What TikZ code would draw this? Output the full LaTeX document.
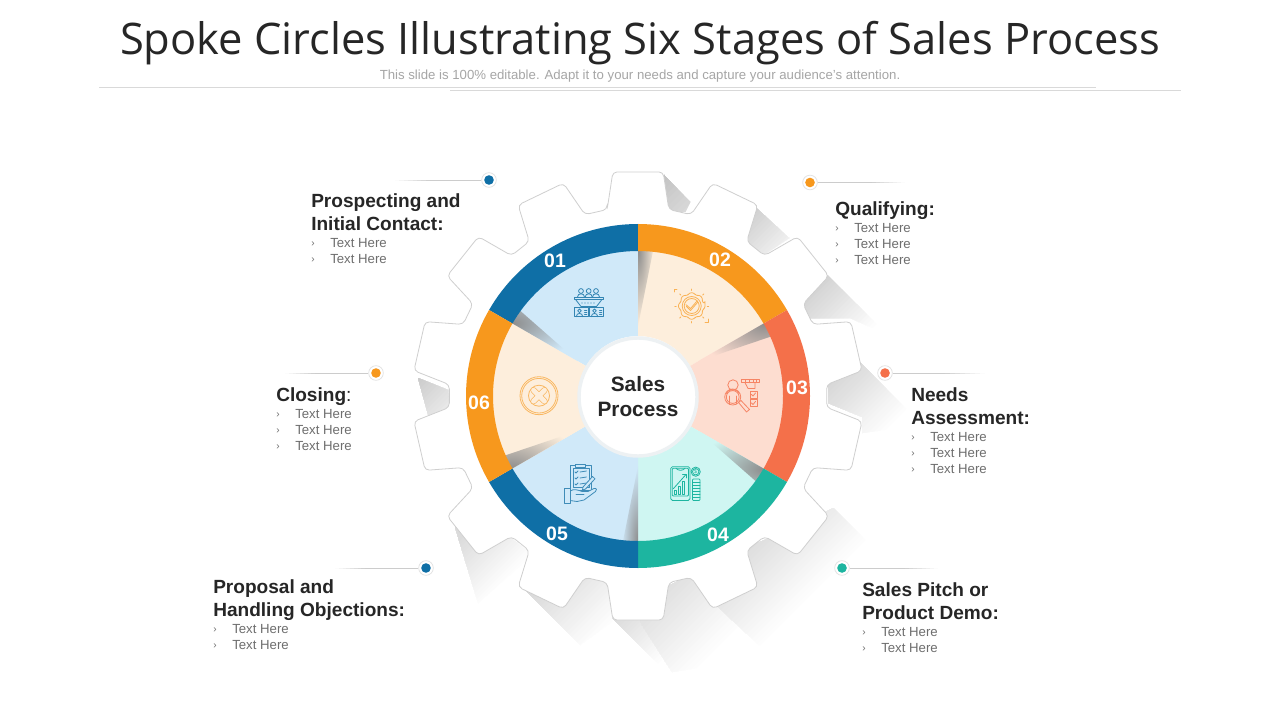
\documentclass[tikz,border=0pt]{standalone}
\usepackage{fontspec}
\setmainfont{Liberation Sans}
\newfontfamily\titlefont{Open Sans}
\usetikzlibrary{calc}
\definecolor{cblue}{HTML}{0F6FA6}
\definecolor{corange}{HTML}{F7981D}
\definecolor{cred}{HTML}{F4704A}
\definecolor{cteal}{HTML}{1DB5A0}
\definecolor{lblue}{HTML}{D0E9F9}
\definecolor{lorange}{HTML}{FDEEDC}
\definecolor{lred}{HTML}{FDDDD0}
\definecolor{lteal}{HTML}{CFF6F2}
\definecolor{ink}{HTML}{262626}
\definecolor{soft}{HTML}{6E6E6E}
\definecolor{gearline}{HTML}{CFCFCF}
\definecolor{hubline}{HTML}{EDF1F3}
\tikzset{
  x=.75pt,y=-.75pt,
  headtext/.style={anchor=base west,inner sep=0pt,font=\fontsize{14.3}{17}\selectfont\bfseries,text=ink},
  itemtext/.style={anchor=base west,inner sep=0pt,font=\fontsize{9.9}{12}\selectfont,text=soft},
  marktext/.style={anchor=base west,inner sep=0pt,font=\fontsize{7.5}{9}\selectfont,text=soft},
  numtext/.style={inner sep=0pt,font=\fontsize{14.6}{17}\selectfont\bfseries,text=white},
  dotcore/.style={circle,fill=#1,minimum size=7.2pt,inner sep=0pt},
  halo/.style={circle,draw=black!11,line width=.6pt,fill=white,minimum size=11pt,inner sep=0pt},
  leader/.style={draw=black!20,line width=.6pt},
  icon/.style={draw=#1,line width=.6pt,line join=round,line cap=round},
}
\newcommand{\itemrow}[3]{%
  \node[marktext] at (#1,#2+4.5) {›};
  \node[itemtext] at (#3,#2+5.5) {Text Here};
}
% polygon #1 filled with a gradient along x+y from s=#2 (black!#4) to s=#3 (white);
% bands are painted from the light end to the dark end so the clip edge stays clean
\newcommand{\longshadow}[4]{%
  \begin{scope}
    \clip #1;
    \foreach \k in {24,23,...,0}{
      \pgfmathsetmacro{\sv}{(#2+(#3-#2)*\k/24)/2}
      \pgfmathsetmacro{\mv}{#4*(1-\k/24)}
      \fill[black!\mv] (\sv+600,\sv-600) -- (\sv-600,\sv+600) -- (\sv-1800,\sv-600) -- (\sv-600,\sv-1800) -- cycle;
    }
  \end{scope}
}
\newcommand{\fadeline}[2]{%
  \foreach \k in {0,...,7}{
    \pgfmathsetmacro{\mv}{20*(1-(\k+.5)/8)}
    \pgfmathsetmacro{\ua}{\k/8}
    \pgfmathsetmacro{\ub}{(\k+1)/8}
    \draw[draw=black!\mv,line width=.6pt] ($(#1)!\ua!(#2)$) -- ($(#1)!\ub!(#2)$);
  }
}
\begin{document}
\begin{tikzpicture}
\useasboundingbox (0,0) rectangle (1280,720);
\fill[white] (0,0) rectangle (1280,720);

% header
\node[anchor=base,inner sep=0pt,text=ink,font=\titlefont\fontsize{32.6}{40}\selectfont] (title) at (640,55) {Spoke Circles Illustrating Six Stages of Sales Process};
\node[inner sep=0pt,text=black!35,font=\fontsize{9.9}{12}\selectfont] (sub) at (640,76) {This slide is 100\% editable. Adapt it to your needs and capture your audience's attention.};
\draw[black!15,line width=.7pt] (99,87.5) -- (1096,87.5);
\draw[black!15,line width=.7pt] (450,90.5) -- (1181,90.5);

% long shadows
\longshadow{(664,175) -- (690,202) -- (685,212) -- (668,212) -- cycle}{840}{1000}{24}
\longshadow{(752,204) -- (789,238) -- (765,254) -- (740,240) -- cycle}{950}{1060}{22}
\longshadow{(827,275) -- (888,335) -- (850,318) -- (810,318) -- (802,303) -- cycle}{1090}{1205}{20}
\longshadow{(860,362) -- (912,415) -- (900,428) -- (862,433) -- (862,417) -- (828,403) -- (828,378) -- cycle}{1200}{1320}{18}
\longshadow{(612,618) -- (662,668) -- (690,640) -- (660,600) -- cycle}{1230}{1325}{15}
\longshadow{(718,607) -- (770,657) -- (672,672) -- (640,622) -- (640,600) -- (700,570) -- cycle}{1240}{1370}{14}
\longshadow{(833,508) -- (885,560) -- (775,660) -- (718,607) -- (752,545) -- (790,530) -- cycle}{1290}{1410}{14}
\longshadow{(455,527) -- (478,603) -- (533,555) -- (500,530) -- cycle}{1000}{1090}{14}
\longshadow{(525,590) -- (580,645) -- (612,622) -- (612,580) -- (560,570) -- cycle}{1115}{1240}{16}
\longshadow{(418,378) -- (448,390) -- (450,415) -- (430,422) -- cycle}{790}{900}{22}

\begin{scope}[shift={(638,396)}]
% gear
\draw[draw=gearline,fill=white,line width=.6pt,rounded corners=3.2pt]
  (-99.4:189) \foreach \i in {0,...,13}{
    -- ({-90+\i*25.7143-9.4}:189) -- ({-90+\i*25.7143-6.4}:225.5) -- ({-90+\i*25.7143+6.4}:225.5) -- ({-90+\i*25.7143+9.4}:189)
  } -- cycle;

% sectors
\foreach \a/\col in {210/lblue,270/lorange,330/lred,390/lteal,450/lblue,510/lorange}{
  \fill[\col] (\a:60) -- (\a:146) arc[start angle=\a,end angle=\a+60,radius=146] -- ({\a+60}:60) arc[start angle=\a+60,end angle=\a,radius=60] -- cycle;
}
% inner shadows on the clockwise side of each spoke
\foreach \a/\col in {210/lblue,270/lorange,330/lred,390/lteal,450/lblue,510/lorange}{
  \begin{scope}[rotate=-\a]
    \clip (146,0) -- (145,15) -- (70,0) -- cycle;
    \shade[inner color=black!45,outer color=\col] (146,0) ellipse[x radius=76,y radius=17];
  \end{scope}
}
% ring
\foreach \a/\col in {210/cblue,270/corange,330/cred,390/cteal,450/cblue,510/corange}{
  \fill[\col] (\a:145) -- (\a:172) arc[start angle=\a,end angle=\a+60,radius=172] -- ({\a+60}:145) arc[start angle=\a+60,end angle=\a,radius=145] -- cycle;
}
\end{scope}

% hub
\node[circle,fill=white,draw=hubline,line width=2.6pt,minimum size=88.5pt,inner sep=0pt,align=center,text=ink,font=\fontsize{15.6}{18.7}\selectfont\bfseries] (hub) at (638,397) {Sales\\Process};

% numbers
\node[numtext] (n1) at (555,261) {01};
\node[numtext] (n2) at (720,260) {02};
\node[numtext] (n3) at (797,388) {03};
\node[numtext] (n4) at (718,535) {04};
\node[numtext] (n5) at (557,534) {05};
\node[numtext] (n6) at (479,403) {06};

% icon 01
\begin{scope}[icon=cblue!85]
\foreach \x in {581,588.7,596}{
  \draw (\x,291) circle[radius=2.4];
  \draw (\x-3.6,297.3) .. controls (\x-3.6,292.6) and (\x+3.6,292.6) .. (\x+3.6,297.3);
}
\draw (574,297.3) -- (603,297.3) -- (603,299.4) -- (574,299.4) -- cycle;
\draw (575.5,299.4) -- (581,306.5) -- (596.5,306.5) -- (602,299.4);
\foreach \x in {582,585,588,591,594}{\fill[cblue!85] (\x,303) circle[radius=.7];}
\foreach \x in {574.5,589.5}{
  \draw (\x,307.7) rectangle (\x+13.8,316.7);
  \draw (\x+5,310.8) circle[radius=1.8];
  \draw (\x+1.8,316.7) .. controls (\x+1.8,312.3) and (\x+8.2,312.3) .. (\x+8.2,316.7);
  \draw (\x+10,310) -- (\x+12.3,310) (\x+10,312) -- (\x+12.3,312) (\x+10,314) -- (\x+12.3,314);
}
\end{scope}

% icon 02
\begin{scope}[icon=corange!75]
\draw[rounded corners=1.6pt] ($(691.7,306)+(-10:13.5)$) \foreach \i in {0,...,7}{
  -- ($(691.7,306)+({\i*45-10}:13.5)$) -- ($(691.7,306)+({\i*45+10}:13.5)$) -- ($(691.7,306)+({\i*45+22.5}:11)$)
} -- cycle;
\draw (691.7,306) circle[radius=9.5];
\draw (691.7,306) circle[radius=7.5];
\draw (686.5,306.5) -- (690.5,310.5) -- (697.5,302.5);
\draw (686,304.7) -- (690.5,308.6) -- (697,301);
\foreach \i in {0,45,...,315}{
  \draw ($(691.7,306)+(\i:15.5)$) -- ($(691.7,306)+(\i:17)$);
}
\draw (674,292) -- (674,289) -- (677,289);
\draw (708,319) -- (708,322) -- (705,322);
\end{scope}

% icon 03
\begin{scope}[icon=cred!85]
\draw (732.7,397) circle[radius=8];
\draw (732.7,397) circle[radius=6.4];
\draw (733,385) circle[radius=5.2];
\draw (726.5,393.5) .. controls (726.5,388.5) and (739,388.5) .. (739,393.5);
\draw (729,404) -- (729,396) (736.5,404) -- (736.5,396);
\draw (738.5,402.5) -- (741,400.5) -- (749.5,409.5) -- (746.5,412) -- cycle;
\draw (741.7,379.5) rectangle (759,382.7);
\foreach \x in {745,749,753,756}{\draw (\x,379.5) -- (\x,382.7);}
\draw (745,382.7) -- (748,388.5) -- (755,388.5) -- (755,382.7);
\draw (750,391) rectangle (757,398);
\draw (750,399.5) rectangle (757,406.5);
\draw (751.5,394.5) -- (753,396) -- (755.5,393);
\draw (751.5,403) -- (753,404.5) -- (755.5,401.5);
\end{scope}

% icon 04
\begin{scope}[icon=cteal]
\draw[rounded corners=1.3pt] (670.7,466.7) rectangle (690,500.5);
\draw[rounded corners=.8pt] (672.2,468.2) rectangle (688.5,496);
\draw (676,468.2) .. controls (678,471) and (683,471) .. (685,468.2);
\draw (673.5,488.5) -- (686,474.5);
\draw (682.5,474.5) -- (686,474.5) -- (686,478);
\draw (674,494.5) rectangle (676.5,490.5);
\draw (678,494.5) rectangle (680.5,486.5);
\draw (682,494.5) rectangle (684.5,481.5);
\draw (695.7,471.7) circle[radius=4.6];
\draw (695.7,471.7) circle[radius=3.2];
\node[inner sep=0pt,text=cteal,font=\fontsize{4}{4}\selectfont] (dollar) at (695.7,471.7) {\$};
\draw[rounded corners=.7pt] (692.4,479) rectangle (700,500.5);
\foreach \y in {482,485,488,491,494,497}{\draw (692.4,\y) -- (700,\y);}
\end{scope}

% icon 05
\begin{scope}[icon=cblue!80]
\draw (570.7,465.3) rectangle (591.7,490);
\draw (573,468) rectangle (589.3,487.5);
\draw[fill=lblue] (575,464) rectangle (585.7,467.8);
\foreach \y in {472,478,484}{
  \draw (575,\y) -- (576,\y+1) -- (578,\y-1);
  \draw (580,\y) -- (586.5,\y-1);
}
\draw[fill=lblue] (583,487) -- (592.5,476.5) -- (595,478.8) -- (585.5,489) -- (582.5,490) -- cycle;
\draw[fill=lblue] (570,491) .. controls (574,488.5) and (578,490) .. (582,491.5) -- (588,491.5) -- (594,488.5) .. controls (597,488) and (597,490) .. (595.5,491.5) -- (584,500) -- (577,501.5) -- (570,500.5) -- cycle;
\draw[fill=lblue] (564.3,488.3) rectangle (570,503.3);
\draw (576,494.5) -- (584,494.5);
\end{scope}

% icon 06
\begin{scope}[icon=corange!70]
\draw (539,395.7) circle[radius=19];
\draw (539,395.7) circle[radius=17.3];
\draw (539,395.7) circle[radius=10.5];
\draw[line width=4.6pt,line cap=round] (533.5,390.2) -- (544.5,401.2) (544.5,390.2) -- (533.5,401.2);
\draw[draw=lorange,line width=3.6pt,line cap=round] (533.5,390.2) -- (544.5,401.2) (544.5,390.2) -- (533.5,401.2);
\end{scope}

% labels
\node[halo] (h1) at (489,180) {};   \node[dotcore=cblue] (d1) at (h1) {};
\node[halo] (h2) at (810,182.5) {}; \node[dotcore=corange] (d2) at (h2) {};
\node[halo] (h3) at (885,373) {};   \node[dotcore=cred] (d3) at (h3) {};
\node[halo] (h4) at (842,568) {};   \node[dotcore=cteal] (d4) at (h4) {};
\node[halo] (h5) at (426,568) {};   \node[dotcore=cblue] (d5) at (h5) {};
\node[halo] (h6) at (376,373) {};   \node[dotcore=corange] (d6) at (h6) {};

\coordinate (m1) at (430,180);    \coordinate (c1) at (395,180);
\coordinate (m2) at (872,182.5);  \coordinate (c2) at (905,182.5);
\coordinate (m3) at (945,373);    \coordinate (c3) at (985,373);
\coordinate (m4) at (905,568);    \coordinate (c4) at (938,568);
\coordinate (m5) at (365,568);    \coordinate (c5) at (335,568);
\coordinate (m6) at (315,373);    \coordinate (c6) at (285,373);

\draw[leader] (h1) -- (m1);
\draw[leader] (h2) -- (m2);
\draw[leader] (h3) -- (m3);
\draw[leader] (h4) -- (m4);
\draw[leader] (h5) -- (m5);
\draw[leader] (h6) -- (m6);
\fadeline{m1}{c1}
\fadeline{m2}{c2}
\fadeline{m3}{c3}
\fadeline{m4}{c4}
\fadeline{m5}{c5}
\fadeline{m6}{c6}

% texts
\node[headtext] (t1a) at (311,207.5) {Prospecting and};
\node[headtext] (t1b) at (311,230.5) {Initial Contact:};
\itemrow{311}{242}{330}\itemrow{311}{258}{330}

\node[headtext] (t2) at (835,215.5) {Qualifying:};
\itemrow{835}{227}{854}\itemrow{835}{243}{854}\itemrow{835}{259}{854}

\node[headtext] (t3a) at (911,401.5) {Needs};
\node[headtext] (t3b) at (911,424.5) {Assessment:};
\itemrow{911}{436}{930}\itemrow{911}{452}{930}\itemrow{911}{468}{930}

\node[headtext] (t4a) at (862,596.5) {Sales Pitch or};
\node[headtext] (t4b) at (862,619.5) {Product Demo:};
\itemrow{862}{631}{881}\itemrow{862}{647}{881}

\node[headtext] (t5a) at (213,593.5) {Proposal and};
\node[headtext] (t5b) at (213,616.5) {Handling Objections:};
\itemrow{213}{628}{232}\itemrow{213}{644}{232}

\node[headtext] (t6) at (276,401.5) {Closing\textmd{:}};
\itemrow{276}{413}{295}\itemrow{276}{429}{295}\itemrow{276}{445}{295}
\end{tikzpicture}
\end{document}
